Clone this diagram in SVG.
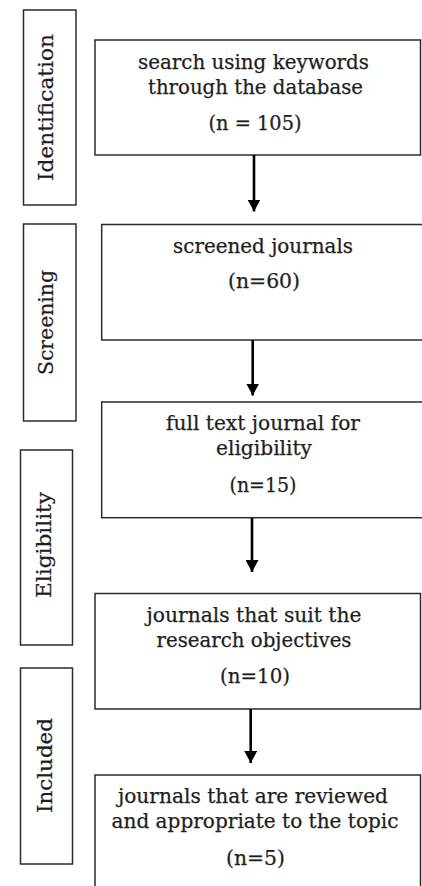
<svg xmlns="http://www.w3.org/2000/svg" width="422" height="886" viewBox="0 0 422 886">
  <style>
    .box { fill: #ffffff; stroke: #2b2b2b; stroke-width: 1.5; }
    .txt { font-family: "DejaVu Serif", "Liberation Serif", serif; font-size: 20.5px; fill: #1e1e1e; stroke: #1e1e1e; stroke-width: 0.25; text-anchor: middle; }
    .stage { font-family: "DejaVu Serif", "Liberation Serif", serif; font-size: 20.5px; fill: #1e1e1e; stroke: #1e1e1e; stroke-width: 0.25; text-anchor: middle; }
    .arrow { stroke: #000000; stroke-width: 2.6; fill: none; marker-end: url(#head); }
  </style>
  <defs>
    <marker id="head" viewBox="0 0 12 13" refX="12" refY="6.5" markerUnits="userSpaceOnUse" markerWidth="12" markerHeight="13" orient="auto">
      <path d="M0,0 L12,6.5 L0,13 z" fill="#000000"/>
    </marker>
  </defs>
  <rect width="422" height="886" fill="#ffffff"/>

  <!-- stage labels -->
  <g id="stage-identification">
    <rect class="box" x="23.5" y="10" width="52.5" height="195"/>
    <text class="stage" transform="translate(52.5,107.5) rotate(-90)" textLength="147" lengthAdjust="spacingAndGlyphs">Identification</text>
  </g>
  <g id="stage-screening">
    <rect class="box" x="23.5" y="224" width="52.5" height="197"/>
    <text class="stage" transform="translate(53,322.5) rotate(-90)" textLength="105" lengthAdjust="spacingAndGlyphs">Screening</text>
  </g>
  <g id="stage-eligibility">
    <rect class="box" x="20.5" y="450" width="52" height="195"/>
    <text class="stage" transform="translate(51,545) rotate(-90)" textLength="106" lengthAdjust="spacingAndGlyphs">Eligibility</text>
  </g>
  <g id="stage-included">
    <rect class="box" x="20.5" y="668" width="52" height="196"/>
    <text class="stage" transform="translate(51.5,765.5) rotate(-90)" textLength="95" lengthAdjust="spacingAndGlyphs">Included</text>
  </g>

  <!-- process steps -->
  <g id="step-search">
    <rect class="box" x="95" y="40" width="325.5" height="115"/>
    <text class="txt" x="253.5" y="68.5" textLength="231" lengthAdjust="spacingAndGlyphs">search using keywords</text>
    <text class="txt" x="255.5" y="94" textLength="215" lengthAdjust="spacingAndGlyphs">through the database</text>
    <text class="txt" x="255" y="130" textLength="93" lengthAdjust="spacingAndGlyphs">(n = 105)</text>
  </g>
  <g id="step-screened">
    <rect class="box" x="101.7" y="224.5" width="330" height="115.5"/>
    <text class="txt" x="263" y="252.5" textLength="180" lengthAdjust="spacingAndGlyphs">screened journals</text>
    <text class="txt" x="264" y="288" textLength="72" lengthAdjust="spacingAndGlyphs">(n=60)</text>
  </g>
  <g id="step-fulltext">
    <rect class="box" x="101.7" y="402" width="330" height="115.7"/>
    <text class="txt" x="263" y="430" textLength="194" lengthAdjust="spacingAndGlyphs">full text journal for</text>
    <text class="txt" x="264" y="455" textLength="96" lengthAdjust="spacingAndGlyphs">eligibility</text>
    <text class="txt" x="263" y="492" textLength="67" lengthAdjust="spacingAndGlyphs">(n=15)</text>
  </g>
  <g id="step-objectives">
    <rect class="box" x="95" y="593.5" width="325.5" height="115.5"/>
    <text class="txt" x="254" y="621.5" textLength="215" lengthAdjust="spacingAndGlyphs">journals that suit the</text>
    <text class="txt" x="254" y="647" textLength="195" lengthAdjust="spacingAndGlyphs">research objectives</text>
    <text class="txt" x="255" y="683" textLength="70" lengthAdjust="spacingAndGlyphs">(n=10)</text>
  </g>
  <g id="step-reviewed">
    <rect class="box" x="95" y="775" width="325.5" height="120"/>
    <text class="txt" x="253" y="802.5" textLength="270" lengthAdjust="spacingAndGlyphs">journals that are reviewed</text>
    <text class="txt" x="255" y="828" textLength="287" lengthAdjust="spacingAndGlyphs">and appropriate to the topic</text>
    <text class="txt" x="255.5" y="865" textLength="59" lengthAdjust="spacingAndGlyphs">(n=5)</text>
  </g>

  <!-- connectors -->
  <g id="connectors">
    <line class="arrow" x1="254" y1="155" x2="254" y2="211.5"/>
    <line class="arrow" x1="252.7" y1="340" x2="252.7" y2="395.5"/>
    <line class="arrow" x1="252" y1="518" x2="252" y2="572"/>
    <line class="arrow" x1="250.7" y1="709" x2="250.7" y2="763"/>
  </g>
</svg>
